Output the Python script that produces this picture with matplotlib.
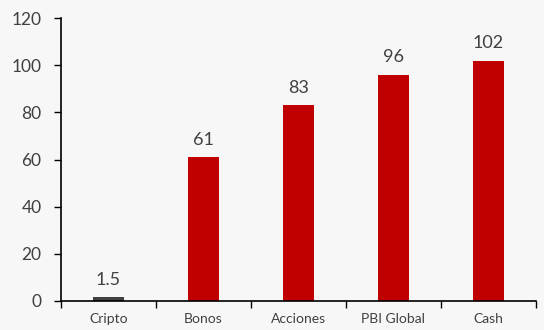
import matplotlib.pyplot as plt
import numpy as np

categories = ['Cripto', 'Bonos', 'Acciones', 'PBI Global', 'Cash']
values = [1.5, 61, 83, 96, 102]
labels = ['1.5', '61', '83', '96', '102']
colors = ['#404040', '#C00000', '#C00000', '#C00000', '#C00000']

plt.rcParams['font.family'] = ['Lato', 'DejaVu Sans']
txt = '#404040'

fig = plt.figure(figsize=(5.44, 3.30), dpi=100, facecolor='#F7F7F7')
ax = fig.add_axes([0.112, 0.088, 0.873, 0.857])
ax.set_facecolor('#F7F7F7')

x = np.arange(len(categories))
ax.bar(x, values, width=0.32, color=colors)
for xi, v, lab in zip(x, values, labels):
    ax.text(xi, v + 4, lab, ha='center', va='bottom', fontsize=13, color=txt)

ax.set_xlim(-0.5, len(categories) - 0.5)
ax.set_ylim(0, 120)
ax.set_yticks(range(0, 121, 20))
ax.tick_params(axis='y', direction='out', length=5, width=1, pad=9,
               labelsize=12.5, labelcolor=txt, color='black')
# category ticks sit between the bars
ax.set_xticks(np.arange(-0.5, len(categories), 1.0))
ax.set_xticklabels([])
ax.set_xticks(x, minor=True)
ax.set_xticklabels(categories, minor=True)
ax.tick_params(axis='x', which='major', direction='out', length=5, width=1, color='black')
ax.tick_params(axis='x', which='minor', length=0, pad=9, labelsize=10, labelcolor=txt)

for s in ['top', 'right']:
    ax.spines[s].set_visible(False)
for s in ['left', 'bottom']:
    ax.spines[s].set_linewidth(1.2)
    ax.spines[s].set_color('black')

fig.savefig('out.png', dpi=100, facecolor=fig.get_facecolor())
